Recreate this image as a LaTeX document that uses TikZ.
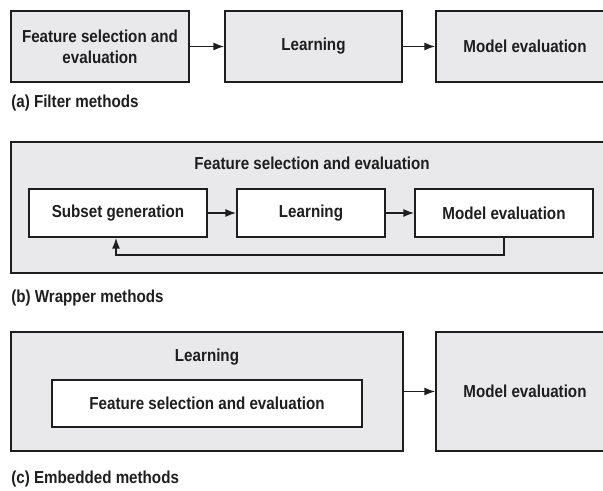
\documentclass[tikz,border=0pt]{standalone}
\usepackage{fontspec}
\setmainfont{Liberation Sans}[FakeStretch=0.875]
\usetikzlibrary{fit,arrows.meta}
\definecolor{boxgray}{HTML}{E9E9EB}
\definecolor{ink}{HTML}{1E1E1E}
\tikzset{
  box/.style={draw=ink, line width=1.4pt, inner sep=0pt, align=center},
  gbox/.style={box, fill=boxgray},
  wbox/.style={box, fill=white},
  lbl/.style={font=\bfseries\fontsize{13}{16}\selectfont, text=ink, inner sep=0pt, align=center},
  conn/.style={draw=ink, line width=1pt, -{Latex[length=8pt,width=6pt]}},
}
\begin{document}
\begin{tikzpicture}[x=0.75pt,y=-0.75pt]
\useasboundingbox (0,0) rectangle (603,491);
\clip (0,0) rectangle (603,491);
% (a) filter
\node[gbox, fit={(11,11)(189,82)}] (a1) {};
\node[lbl] (a1t) at (a1.center) {Feature selection and\\evaluation};
\node[gbox, fit={(225,11)(402,82)}] (a2) {};
\node[lbl] (a2t) at (a2.center) {Learning};
\node[gbox, fit={(436,11)(614,82)}] (a3) {};
\node[lbl] (a3t) at (a3.center) {Model evaluation};
\draw[conn] (a1) -- (a2);
\draw[conn] (a2) -- (a3);
\node[lbl, anchor=west] (alab) at (11,103) {(a) Filter methods};
% (b) wrapper
\node[gbox, fit={(11,142)(613,273)}] (b0) {};
\node[lbl] (b0t) at (312,163) {Feature selection and evaluation};
\node[wbox, fit={(29,189)(207,237)}] (b1) {};
\node[lbl] (b1t) at (b1.center) {Subset generation};
\node[wbox, fit={(237,189)(385,237)}] (b2) {};
\node[lbl] (b2t) at (b2.center) {Learning};
\node[wbox, fit={(415,189)(593,237)}] (b3) {};
\node[lbl] (b3t) at (b3.center) {Model evaluation};
\draw[conn] (b1) -- (b2);
\draw[conn] (b2) -- (b3);
\coordinate (fb1) at (504,255);
\coordinate (fb2) at (116,255);
\draw[conn] (b3.south -| fb1) -- (fb1) -- (fb2) -- (b1.south -| fb2);
\node[lbl, anchor=west] (blab) at (11,298) {(b) Wrapper methods};
% (c) embedded
\node[gbox, fit={(11,332)(403,451)}] (c0) {};
\node[lbl] (c0t) at (207,357) {Learning};
\node[wbox, fit={(52,380)(362,427)}] (c1) {};
\node[lbl] (c1t) at (c1.center) {Feature selection and evaluation};
\node[gbox, fit={(436,332)(614,451)}] (c2) {};
\node[lbl] (c2t) at (c2.center) {Model evaluation};
\draw[conn] (c0) -- (c2);
\node[lbl, anchor=west] (clab) at (11,479) {(c) Embedded methods};
\end{tikzpicture}
\end{document}
